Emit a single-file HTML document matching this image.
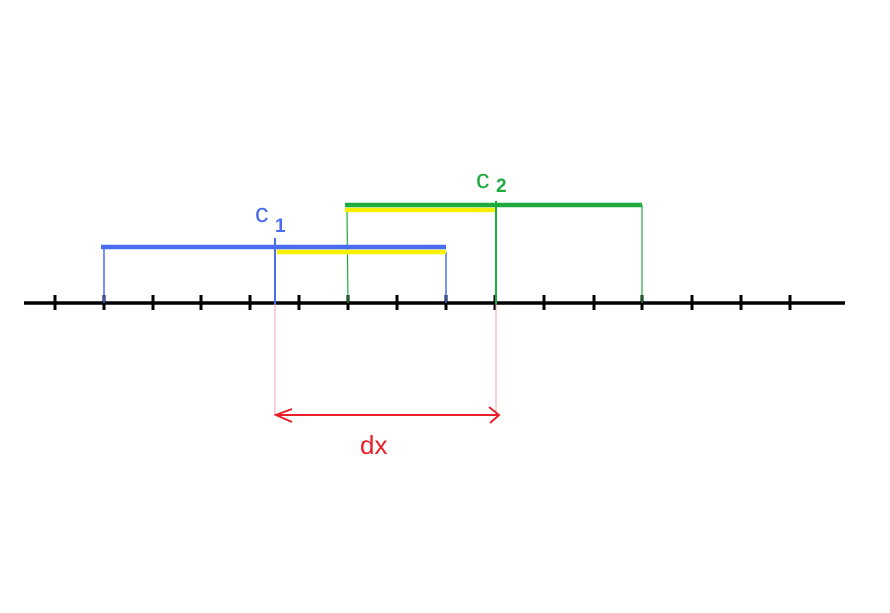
<!DOCTYPE html>
<html><head><style>body{margin:0;background:#fff}svg{display:block}</style></head><body>
<svg width="890" height="613" xmlns="http://www.w3.org/2000/svg" font-family="Liberation Sans, sans-serif">
<rect width="890" height="613" fill="#fff"/>
<line x1="24" y1="303" x2="845" y2="303" stroke="#000" stroke-width="3.5"/>
<g stroke="#000" stroke-width="3">
<line x1="55" y1="295" x2="55" y2="310"/><line x1="104" y1="295" x2="104" y2="310"/>
<line x1="153" y1="295" x2="153" y2="310"/><line x1="201" y1="295" x2="201" y2="310"/>
<line x1="250" y1="295" x2="250" y2="310"/><line x1="299" y1="295" x2="299" y2="310"/>
<line x1="348" y1="295" x2="348" y2="310"/><line x1="397" y1="295" x2="397" y2="310"/>
<line x1="446" y1="295" x2="446" y2="310"/><line x1="495" y1="295" x2="495" y2="310"/>
<line x1="544" y1="295" x2="544" y2="310"/><line x1="594" y1="295" x2="594" y2="310"/>
<line x1="642" y1="295" x2="642" y2="310"/><line x1="692" y1="295" x2="692" y2="310"/>
<line x1="741" y1="295" x2="741" y2="310"/><line x1="790" y1="295" x2="790" y2="310"/>
</g>
<line x1="275" y1="303" x2="275" y2="415" stroke="#f5a0a8" stroke-width="1"/>
<line x1="496" y1="303" x2="496" y2="415" stroke="#f5a0a8" stroke-width="1"/>
<line x1="104" y1="247" x2="104" y2="303" stroke="#4a6cf0" stroke-width="1.5"/>
<line x1="446" y1="252" x2="446" y2="303" stroke="#4a6cf0" stroke-width="1.5"/>
<line x1="347" y1="208" x2="348" y2="303" stroke="#1faa40" stroke-width="1.2"/>
<line x1="642" y1="205" x2="642" y2="303" stroke="#1faa40" stroke-width="1.2"/>
<line x1="101" y1="247" x2="446" y2="247" stroke="#4a6cf0" stroke-width="4.5"/>
<line x1="277" y1="252" x2="446" y2="252" stroke="#f5ef00" stroke-width="4.5"/>
<line x1="275" y1="238" x2="275" y2="304" stroke="#4a6cf0" stroke-width="2"/>
<line x1="345" y1="205" x2="642" y2="205" stroke="#1faa40" stroke-width="4.5"/>
<line x1="345" y1="210" x2="495" y2="210" stroke="#f5ef00" stroke-width="4.5"/>
<line x1="496" y1="201" x2="496" y2="304" stroke="#1faa40" stroke-width="2"/>
<g stroke="#e8202a" stroke-width="2" fill="none">
<line x1="276" y1="415" x2="499" y2="415"/>
<polyline points="292,409 276,415 292,422"/>
<polyline points="489,407 499,415 490,423"/>
</g>
<text x="360" y="454" font-size="26" fill="#e8202a">dx</text>
<text x="255" y="222" font-size="27" fill="#4a6cf0">c</text>
<text x="275" y="232" font-size="19" font-weight="bold" fill="#4a6cf0">1</text>
<text x="476" y="188" font-size="27" fill="#1faa40">c</text>
<text x="496" y="192" font-size="19" font-weight="bold" fill="#1faa40">2</text>
</svg>
</body></html>
